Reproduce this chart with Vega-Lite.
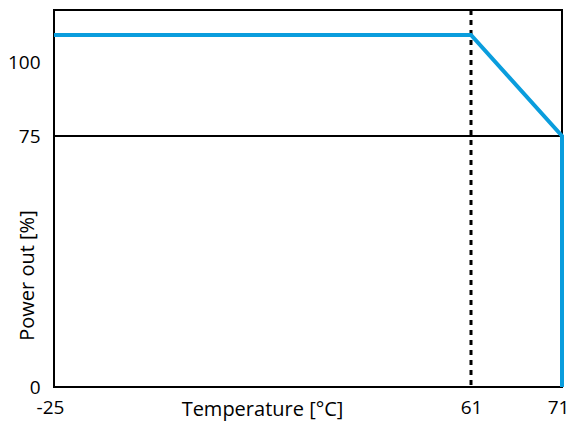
{
  "$schema": "https://vega.github.io/schema/vega-lite/v6.json",
  "autosize": {"type": "none"},
  "padding": {"left": 54, "top": 10, "right": 8, "bottom": 39},
  "width": 508,
  "height": 377,
  "background": "white",
  "config": {
    "view": {"stroke": "black", "strokeWidth": 2},
    "font": "Open Sans",
    "axis": {"labelFont": "Open Sans", "titleFont": "Open Sans", "labelFontSize": 19, "titleFontSize": 20, "labelColor": "black", "titleColor": "black", "titleFontWeight": "normal", "domain": false, "ticks": false, "grid": false}
  },
  "datasets": {
    "curve": [
      {"temp": -25, "power": 100},
      {"temp": 61, "power": 100},
      {"temp": 71, "power": 75},
      {"temp": 71, "power": 0}
    ],
    "hline": [{"power": 75}],
    "vline": [{"temp": 61}]
  },
  "layer": [
    {
      "data": {"name": "hline"},
      "mark": {"type": "rule", "color": "black", "strokeWidth": 2},
      "encoding": {"y": {"field": "power", "type": "quantitative", "scale": {"domain": [0, 75, 100, 110], "range": [377, 126, 25, 0], "zero": false, "nice": false}}}
    },
    {
      "data": {"name": "vline"},
      "mark": {"type": "rule", "color": "black", "strokeWidth": 3, "strokeDash": [5, 5]},
      "encoding": {"x": {"field": "temp", "type": "quantitative", "scale": {"domain": [-25, 61, 71], "range": [0, 417, 508], "zero": false, "nice": false}}}
    },
    {
      "data": {"name": "curve"},
      "mark": {"type": "line", "color": "#0a9ddd", "strokeWidth": 4, "clip": false},
      "encoding": {
        "x": {"field": "temp", "type": "quantitative", "title": "Temperature [°C]",
          "scale": {"domain": [-25, 61, 71], "range": [0, 417, 508], "zero": false, "nice": false},
          "axis": {"values": [-25, 61, 71], "labelExpr": "'' + datum.value", "labelFlush": false, "labelPadding": 11, "labelOffset": {"condition": {"test": "datum.value == 61", "value": 0}, "value": -4}, "titleX": 208, "titleY": 28, "titleBaseline": "alphabetic", "titleAnchor": null}},
        "y": {"field": "power", "type": "quantitative", "title": "Power out [%]",
          "scale": {"domain": [0, 75, 100, 110], "range": [377, 126, 25, 0], "zero": false, "nice": false},
          "axis": {"values": [0, 75, 100], "labelFlush": false, "labelPadding": 14, "labelOffset": {"condition": {"test": "datum.value == 100", "value": 27}, "value": 0}, "titleX": -27, "titleY": 265, "titleBaseline": "middle", "titleAlign": "center"}},
        "order": {"value": 0}
      }
    }
  ]
}
